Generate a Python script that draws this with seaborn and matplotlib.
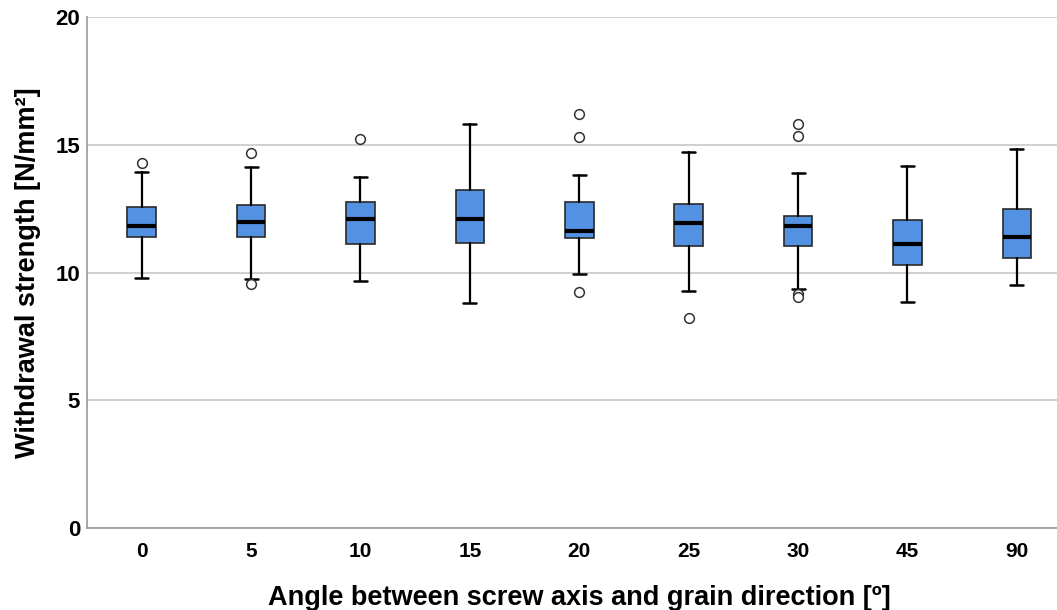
import seaborn as sns
import matplotlib.pyplot as plt

# angle groups and the box statistics
angles = ['0', '5', '10', '15', '20', '25', '30', '45', '90']
whis_lo = [9.80, 9.73, 9.68, 8.81, 9.93, 9.26, 9.34, 8.83, 9.50]
q1 = [11.39, 11.40, 11.12, 11.17, 11.36, 11.04, 11.03, 10.28, 10.58]
med = [11.83, 11.99, 12.09, 12.08, 11.64, 11.93, 11.81, 11.13, 11.40]
q3 = [12.55, 12.63, 12.75, 13.23, 12.75, 12.68, 12.22, 12.04, 12.49]
whis_hi = [13.92, 14.14, 13.75, 15.81, 13.83, 14.72, 13.91, 14.18, 14.82]
outliers = [
    [14.30],
    [14.66, 9.55],
    [15.21],
    [],
    [16.20, 15.29, 9.22],
    [8.21],
    [15.81, 15.35, 9.15, 9.05],
    [],
    [],
]

sns.set_style("white")
plt.rcParams['font.family'] = ['Liberation Sans', 'DejaVu Sans']

stats = []
for i, a in enumerate(angles):
    stats.append({
        'label': a, 'whislo': whis_lo[i], 'q1': q1[i], 'med': med[i],
        'q3': q3[i], 'whishi': whis_hi[i], 'fliers': outliers[i],
    })

fig = plt.figure(figsize=(10.57, 6.10), dpi=100)
ax = fig.add_axes([0.0823, 0.1344, 0.9315, 0.8377])

ax.bxp(stats, positions=range(len(angles)), widths=0.26, patch_artist=True,
       boxprops=dict(facecolor='#5392e2', edgecolor='#2a2a2a', linewidth=1.2),
       medianprops=dict(color='black', linewidth=3),
       whiskerprops=dict(color='black', linewidth=1.6),
       capprops=dict(color='black', linewidth=1.8),
       capwidths=0.12,
       flierprops=dict(marker='o', markerfacecolor='white', markeredgecolor='#333333',
                       markersize=7, markeredgewidth=1.1),
       zorder=3)

ax.set_xlim(-0.5, 8.5)
ax.set_ylim(0, 20)
ax.set_yticks([0, 5, 10, 15, 20])
ax.yaxis.grid(True, color='#c8c8c8', linewidth=1.2, zorder=0)
ax.set_axisbelow(True)
for s in ['top', 'right']:
    ax.spines[s].set_visible(False)
for s in ['left', 'bottom']:
    ax.spines[s].set_color('#999999')
    ax.spines[s].set_linewidth(1.2)
ax.tick_params(axis='y', length=0, labelsize=16, pad=5, labelcolor='black')
ax.tick_params(axis='x', length=0, labelsize=15, pad=10, labelcolor='black')
for t in ax.get_xticklabels() + ax.get_yticklabels():
    t.set_fontweight('bold')

ax.set_xlabel('Angle between screw axis and grain direction [º]', fontsize=19.5,
              fontweight='bold', labelpad=17, color='black')
ax.set_ylabel('Withdrawal strength [N/mm²]', fontsize=19.5, fontweight='bold',
              labelpad=10, color='black')

fig.savefig('out.png', dpi=100)
